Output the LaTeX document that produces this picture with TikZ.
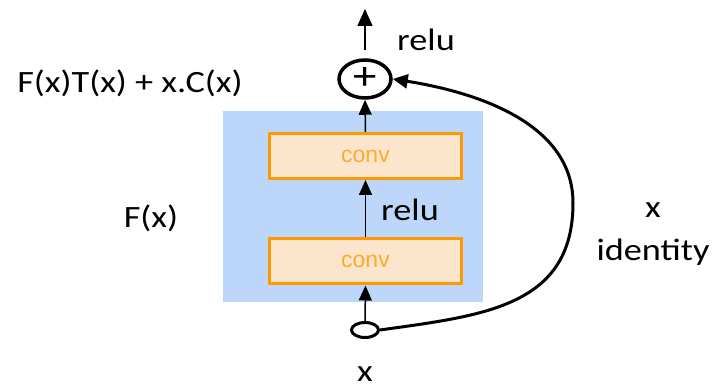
\documentclass[tikz,border=0pt]{standalone}
\usepackage{fontspec}
\setmainfont[FakeStretch=1.17]{Carlito}
\newfontfamily\convfont{Liberation Sans}
\usetikzlibrary{positioning,arrows.meta,shapes.geometric}
\definecolor{blockblue}{RGB}{189,215,250}
\definecolor{convfill}{RGB}{252,229,205}
\definecolor{convline}{RGB}{255,153,0}
\definecolor{convtext}{RGB}{255,170,40}

\begin{document}
\begin{tikzpicture}[x=1pt,y=1pt,
    conv/.style={draw=convline,line width=3pt,fill=convfill,minimum width=192pt,
      minimum height=45pt,inner sep=0pt,text=convtext,
      font=\convfont\fontsize{23}{23}\selectfont},
    lbl/.style={inner sep=0pt,font=\fontsize{31}{31}\selectfont},
    tip/.style={-{Triangle[length=15pt,width=13pt]},line width=1.5pt}]
  \useasboundingbox (0,0) rectangle (716,387);
  % residual block
  \fill[blockblue] (223,85) rectangle (483,276);
  \node[conv] (conv1) at (365.5,125.5) {conv};
  \node[conv] (conv2) at (365.5,231) {conv};
  \node[ellipse,draw,line width=3.5pt,minimum width=52pt,minimum height=38pt,
    inner sep=0pt,font=\fontsize{40}{40}\selectfont] (add) at (365,308) {+};
  \node[ellipse,draw,line width=3pt,minimum width=27pt,minimum height=15pt,
    inner sep=0pt] (src) at (365,57) {};
  \coordinate (out) at (365,378);
  \coordinate (bend) at (573,184);
  % labels
  \node[lbl] (relu1) at (426,347) {relu};
  \node[lbl] (relu2) at (410,177) {relu};
  \node[lbl] (sum) at (130,304) {F(x)T(x) + x.C(x)};
  \node[lbl] (fx) at (151,169) {F(x)};
  \node[lbl] (xid) at (653,177) {x};
  \node[lbl] (idt) at (653,135) {identity};
  \node[lbl] (xin) at (365,13) {x};
  % connectors
  \draw[tip] (src.north) -- (conv1.south);
  \draw[tip] (conv1.north) -- (conv2.south);
  \draw[tip] (conv2.north) -- (add.south);
  \draw[tip,-{Triangle[length=17pt,width=15pt]}] ([yshift=8pt]add.north) -- (out);
  \draw[line width=3pt,-{Triangle[length=15pt,width=14pt]}]
    (src.east) to[out=8,in=-90,looseness=1.15] (bend)
    to[out=90,in=-9,looseness=0.95] (add.east);
\end{tikzpicture}
\end{document}
